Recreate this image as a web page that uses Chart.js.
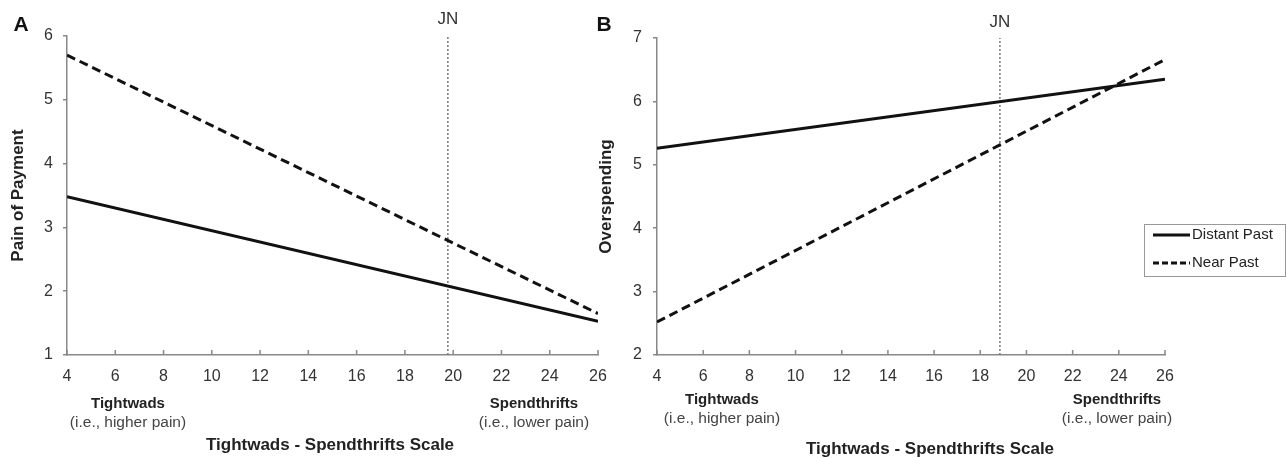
<!DOCTYPE html>
<html>
<head>
<meta charset="utf-8">
<script src="https://cdn.jsdelivr.net/npm/chart.js@4.4.1/dist/chart.umd.min.js"></script>
<style>
body { margin: 0; background: #fff; }
#wrap { position: relative; width: 1287px; height: 458px; }
canvas { position: absolute; top: 0; }
#pain-chart { left: 0; }
#over-chart { left: 580px; }
</style>
</head>
<body>
<div id="wrap">
<canvas id="pain-chart" width="620" height="458"></canvas>
<canvas id="over-chart" width="707" height="458"></canvas>
</div>
<script>
// -- data --
const scaleEnds = [4, 26];
const xTicks = [4, 6, 8, 10, 12, 14, 16, 18, 20, 22, 24, 26];
const painTicks = [1, 2, 3, 4, 5, 6];
const overTicks = [2, 3, 4, 5, 6, 7];
const seriesLabels = ['Distant Past', 'Near Past'];
const painDistantPast = [3.48, 1.53];
const painNearPast = [5.7, 1.65];
const overDistantPast = [5.26, 6.35];
const overNearPast = [2.52, 6.66];
const jnPain = 19.78;
const jnOver = 18.85;

const FONT = "'Liberation Sans', Arial, Helvetica, sans-serif";
Chart.defaults.font.family = FONT;

function toPoints(values) {
    return scaleEnds.map(function (x, i) { return { x: x, y: values[i] }; });
}

//draws letters, JN label, inner ticks, end labels, x title and legend
const annotations = {
    id: 'annotations',
    afterDraw: function (chart) {
        const p = chart.options.plugins.annotations;
        const ctx = chart.ctx;
        const xs = chart.scales.x;
        const area = chart.chartArea;
        ctx.save();

        // inner x ticks
        ctx.strokeStyle = '#888';
        ctx.lineWidth = 1.5;
        xs.ticks.forEach(function (t, i) {
            const px = xs.getPixelForTick(i);
            ctx.beginPath();
            ctx.moveTo(px, area.bottom);
            ctx.lineTo(px, area.bottom - 5);
            ctx.stroke();
        });

        ctx.textAlign = 'center';
        ctx.textBaseline = 'middle';

        ctx.fillStyle = '#333';
        ctx.font = '17px ' + FONT;
        ctx.fillText('JN', xs.getPixelForValue(p.jn), p.jnY);

        ctx.fillStyle = '#111';
        ctx.font = 'bold 21px ' + FONT;
        ctx.fillText(p.letter, p.letterX, 25);

        ctx.font = 'bold 15px ' + FONT;
        ctx.fillStyle = '#222';
        ctx.fillText('Tightwads', p.leftX, p.endY);
        ctx.fillText('Spendthrifts', p.rightX, p.endY);
        ctx.font = 'bold 17px ' + FONT;
        ctx.fillText('Tightwads - Spendthrifts Scale', p.titleX, p.titleY);

        ctx.font = '15.5px ' + FONT;
        ctx.fillStyle = '#444';
        ctx.fillText('(i.e., higher pain)', p.leftX, p.endY + 19);
        ctx.fillText('(i.e., lower pain)', p.rightX, p.endY + 19);

        if (p.legend) {
            const L = p.legend;
            ctx.strokeStyle = '#999';
            ctx.lineWidth = 1;
            ctx.strokeRect(L.x + 0.5, L.y + 0.5, L.w, L.h);
            ctx.textAlign = 'left';
            ctx.font = '15px ' + FONT;
            ctx.fillStyle = '#222';
            [0, 1].forEach(function (i) {
                const ds = chart.data.datasets[i];
                const y = L.y + 11 + i * 28;
                ctx.strokeStyle = '#111';
                ctx.lineWidth = 3;
                ctx.setLineDash(i === 1 ? [6, 3] : []);
                ctx.beginPath();
                ctx.moveTo(L.x + 9, y);
                ctx.lineTo(L.x + 46, y);
                ctx.stroke();
                ctx.setLineDash([]);
                ctx.fillText(ds.label, L.x + 48, y);
            });
        }
        ctx.restore();
    }
};

function makePanel(canvas, distant, near, ticksY, jn, yTitle, cfg) {
    return new Chart(canvas, {
        type: 'line',
        data: {
            datasets: [{
                label: seriesLabels[0],
                data: toPoints(distant),
                borderColor: '#111',
                borderWidth: 3
            }, {
                label: seriesLabels[1],
                data: toPoints(near),
                borderColor: '#111',
                borderWidth: 3,
                borderDash: [9, 5]
            }, {
                label: 'JN',
                data: [{ x: jn, y: ticksY[0] }, { x: jn, y: ticksY[ticksY.length - 1] }],
                borderColor: '#777',
                borderWidth: 1.5,
                borderDash: [2, 2]
            }]
        },
        options: {
            responsive: false,
            animation: false,
            elements: { point: { radius: 0 }, line: { tension: 0 } },
            layout: { padding: { top: cfg.top, right: cfg.right, left: 0, bottom: 0 } },
            plugins: {
                legend: { display: false },
                tooltip: { enabled: false },
                annotations: cfg.ann
            },
            scales: {
                x: {
                    type: 'linear',
                    min: xTicks[0],
                    max: xTicks[xTicks.length - 1],
                    afterFit: function (s) { s.height = 458 - 355; },
                    ticks: { stepSize: 2, padding: 4, color: '#333', font: { size: 16 } },
                    grid: { display: false },
                    border: { color: '#888', width: 1.5 }
                },
                y: {
                    min: ticksY[0],
                    max: ticksY[ticksY.length - 1],
                    afterFit: function (s) { s.width = cfg.yWidth; },
                    ticks: { stepSize: 1, padding: cfg.tickPad, color: '#333', font: { size: 16 } },
                    grid: { drawOnChartArea: false, tickLength: 4, color: '#888', lineWidth: 1.5 },
                    border: { color: '#888', width: 1.5 },
                    title: {
                        display: true,
                        text: yTitle,
                        color: '#222',
                        font: { size: 17, weight: 'bold' },
                        padding: { top: cfg.titlePad, bottom: 0 }
                    }
                }
            }
        },
        plugins: [annotations]
    });
}

makePanel(document.getElementById('pain-chart'), painDistantPast, painNearPast, painTicks, jnPain, 'Pain of Payment', {
    top: 36, right: 22, yWidth: 67, tickPad: 10, titlePad: 8,
    ann: { letter: 'A', letterX: 21, jn: jnPain, jnY: 19, leftX: 128, rightX: 534, endY: 404, titleX: 330, titleY: 445 }
});

makePanel(document.getElementById('over-chart'), overDistantPast, overNearPast, overTicks, jnOver, 'Overspending', {
    top: 38, right: 122, yWidth: 77, tickPad: 11, titlePad: 16,
    ann: { letter: 'B', letterX: 24, jn: jnOver, jnY: 22, leftX: 142, rightX: 537, endY: 400, titleX: 350, titleY: 449,
        legend: { x: 564, y: 224, w: 141, h: 52 } }
});
</script>
</body>
</html>
